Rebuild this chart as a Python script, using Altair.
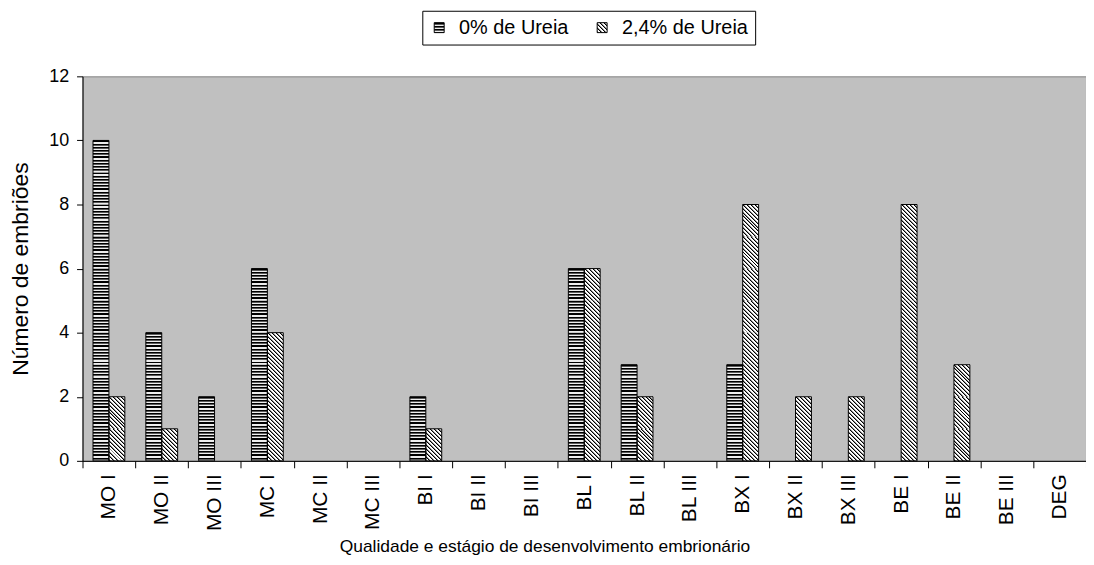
import json
import altair as alt
import pandas as pd

categories = ["MO I", "MO II", "MO III", "MC I", "MC II", "MC III", "BI I", "BI II",
              "BI III", "BL I", "BL II", "BL III", "BX I", "BX II", "BX III",
              "BE I", "BE II", "BE III", "DEG"]
series = ["0% de Ureia", "2,4% de Ureia"]
urea_0 = [10, 4, 2, 6, 0, 0, 2, 0, 0, 6, 3, 0, 3, 0, 0, 0, 0, 0, 0]
urea_24 = [2, 1, 0, 4, 0, 0, 1, 0, 0, 6, 2, 0, 8, 2, 2, 8, 3, 0, 0]
y_ticks = [0, 2, 4, 6, 8, 10, 12]

# one row per bar
rows = []
for c, a, b in zip(categories, urea_0, urea_24):
    rows.append({"cat": c, "serie": series[0], "v": a})
    rows.append({"cat": c, "serie": series[1], "v": b})
df = pd.DataFrame(rows)

# each bar split into unit-high pieces so the hatch texture stays short
seg_rows = []
for r in rows:
    for k in range(int(r["v"])):
        seg_rows.append({"cat": r["cat"], "serie": r["serie"], "lo": k, "hi": k + 1})
seg = pd.DataFrame(seg_rows)

# layout (styling only)
W, H = 1010, 387
PAD_OUT = 0.66
unit_px = H / 12.0
bar_w = (W / len(categories)) / (2 + 2 * PAD_OUT)
FONT = "Liberation Sans, Arial, sans-serif"


def stripes(period_s, bands):
    """Hard-edged repeating stops; bands = [(end_fraction, color), ...]."""
    stops = []
    k = 0
    while k * period_s < 1 - 1e-9:
        start = 0.0
        for end, col in bands:
            a = min((k + start) * period_s, 1.0)
            b = min((k + end) * period_s, 1.0)
            stops.append({"offset": round(a, 6), "color": col})
            stops.append({"offset": round(b, 6), "color": col})
            start = end
        k += 1
    return stops


H_BANDS = [(0.36, "#000000"), (0.62, "#5a5a5a"), (1.0, "#eeeeee")]
D_BANDS = [(0.25, "#000000"), (0.5, "#8c8c8c"), (1.0, "#ffffff")]


def horiz_grad(h, period=3.225):
    return {"gradient": "linear", "x1": 0, "y1": 0, "x2": 0, "y2": 1,
            "stops": stripes(period / h, H_BANDS)}


def diag_grad(w, h, period=4.0):
    t = (w + h) / (w * w + h * h)
    return {"gradient": "linear", "x1": 0, "y1": 1,
            "x2": round(t * w, 6), "y2": round(1 - t * h, 6),
            "stops": stripes(period / (w + h), D_BANDS)}


x_enc = alt.X("cat:N", scale=alt.Scale(domain=categories, paddingInner=0, paddingOuter=0),
              sort=categories,
              axis=alt.Axis(title="Qualidade e estágio de desenvolvimento embrionário",
                            labelAngle=-90, tickBand="extent", tickSize=7,
                            labelPadding=6, labelFontSize=21, titleFontSize=17.5,
                            titleX=465, titleY=91, titleAlign="center",
                            titleBaseline="alphabetic"))
xo_enc = alt.XOffset("serie:N", scale=alt.Scale(domain=series, paddingInner=0,
                                                 paddingOuter=PAD_OUT))
y_axis = alt.Axis(title="Número de embriões", values=y_ticks, tickSize=6,
                  labelPadding=8, labelFontSize=18, titleFontSize=23,
                  titleX=-62, titleBaseline="middle")
y_scale = alt.Scale(domain=[0, 12], nice=False)

# legend layer (zero-height bars carry the legend)
leg_h = {"gradient": "linear", "x1": 0, "y1": 0, "x2": 0, "y2": 1,
         "stops": stripes(1 / 3.2, H_BANDS)}
leg_d = {"gradient": "linear", "x1": 0, "y1": 1, "x2": 1, "y2": 0,
         "stops": stripes(4 / 20, D_BANDS)}
NB = "\u00a0\u00a0"
legend_layer = alt.Chart(df).transform_calculate(zero="0").mark_bar(strokeWidth=0).encode(
    x=x_enc, xOffset=xo_enc,
    y=alt.Y("zero:Q", scale=y_scale, axis=y_axis),
    color=alt.Color("serie:N",
                    scale=alt.Scale(domain=series,
                                    range=[alt.ExprRef(json.dumps(leg_h)),
                                           alt.ExprRef(json.dumps(leg_d))]),
                    legend=alt.Legend(title=None, orient="none", legendX=342, legendY=-66,
                                      direction="horizontal", symbolType="square",
                                      symbolSize=100, symbolStrokeColor="black",
                                      symbolStrokeWidth=1, labelFontSize=20,
                                      labelFont=FONT, labelColor="black",
                                      labelExpr=f"datum.label == '{series[1]}' ? datum.label + '{NB}' : datum.label",
                                      strokeColor="black", fillColor="white",
                                      padding=7, columnPadding=23, labelOffset=10)),
)

seg_layers = []
for s, grad in ((series[0], horiz_grad(unit_px)), (series[1], diag_grad(bar_w, unit_px))):
    seg_layers.append(
        alt.Chart(seg).transform_filter(alt.datum.serie == s).mark_bar(
            fill=grad, strokeWidth=0
        ).encode(
            x=x_enc, xOffset=xo_enc,
            y=alt.Y("lo:Q", scale=y_scale, axis=y_axis),
            y2="hi:Q",
        )
    )

outline_layer = alt.Chart(df).transform_filter(alt.datum.v > 0).mark_bar(
    fill="transparent", stroke="black", strokeWidth=1
).encode(
    x=x_enc, xOffset=xo_enc,
    y=alt.Y("v:Q", scale=y_scale, axis=y_axis),
)

chart = alt.layer(legend_layer, *seg_layers, outline_layer).properties(
    width=W, height=H,
    autosize=alt.AutoSizeParams(type="none"),
    padding={"left": 75, "top": 67, "right": 0, "bottom": 95},
).configure_view(
    fill="#C0C0C0", stroke="#808080", strokeWidth=1
).configure_axis(
    grid=False, domainColor="black", tickColor="black", labelColor="black",
    titleColor="black", labelFont=FONT, titleFont=FONT, titleFontWeight="normal",
    domainWidth=1, tickWidth=1
).configure_legend(labelFont=FONT)

chart.save("out.html", embed_options={"renderer": "svg", "actions": False})
